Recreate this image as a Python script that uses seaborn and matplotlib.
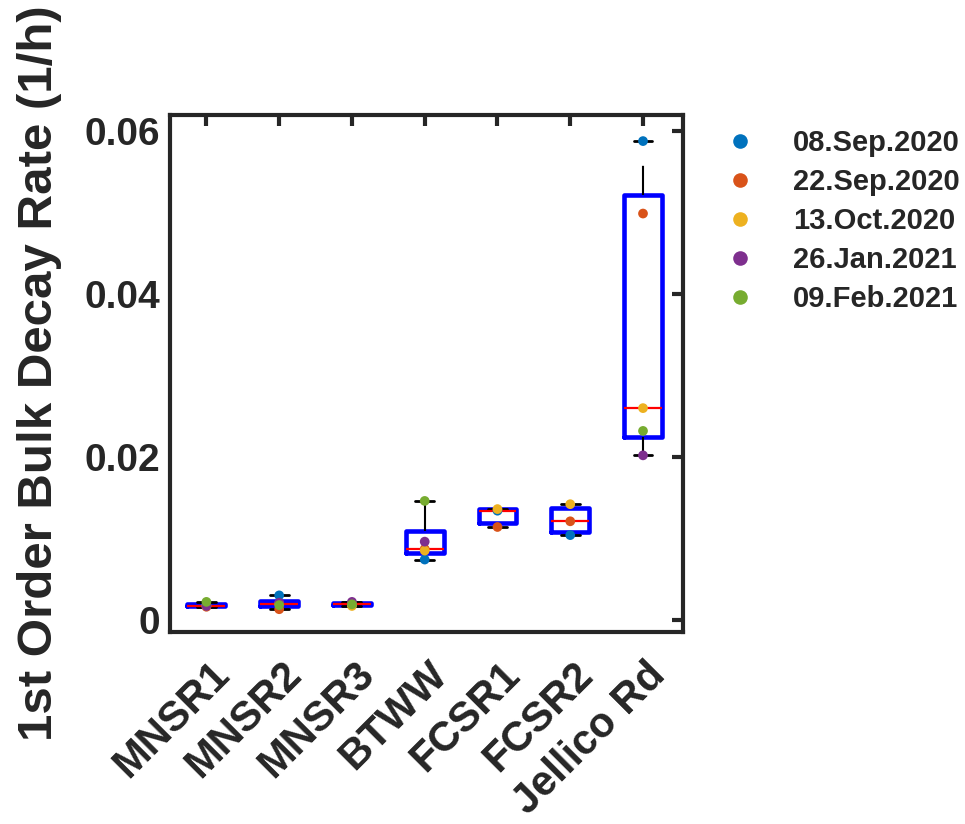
import numpy as np
import pandas as pd
import matplotlib
matplotlib.use("Agg")
import matplotlib.pyplot as plt
import matplotlib.transforms as mtransforms
import seaborn as sns

# ---- data ----
sites = ["MNSR1", "MNSR2", "MNSR3", "BTWW", "FCSR1", "FCSR2", "Jellico Rd"]
dates = ["08.Sep.2020", "22.Sep.2020", "13.Oct.2020", "26.Jan.2021", "09.Feb.2021"]
sep08 = [0.0018, 0.0030, 0.0019, 0.0074, 0.0134, 0.0104, 0.0588]
sep22 = [0.0016, 0.0013, 0.0020, 0.0087, 0.0114, 0.0121, 0.0499]
oct13 = [0.00175, 0.0020, 0.0017, 0.0085, 0.0136, 0.0142, 0.0260]
jan26 = [0.0017, 0.0021, 0.0022, 0.0096, np.nan, np.nan, 0.0202]
feb09 = [0.0022, 0.0018, 0.0019, 0.0146, np.nan, np.nan, 0.0232]
date_colors = ["#0072BD", "#D95319", "#EDB120", "#7E2F8E", "#77AC30"]
yticks = [0, 0.02, 0.04, 0.06]
ytick_labels = ["0", "0.02", "0.04", "0.06"]
ylabel = "1st Order Bulk Decay Rate (1/h)"

series = [sep08, sep22, oct13, jan26, feb09]
rows = []
for d, vals in zip(dates, series):
    for s, v in zip(sites, vals):
        rows.append({"site": s, "date": d, "rate": v})
df = pd.DataFrame(rows).dropna()

# box statistics from the data (MATLAB-style percentiles)
box_stats = []
for s in sites:
    v = df.loc[df["site"] == s, "rate"].to_numpy()
    q1, med, q3 = np.percentile(v, [25, 50, 75], method="hazen")
    box_stats.append(dict(med=med, q1=q1, q3=q3, whislo=v.min(), whishi=v.max(),
                          fliers=[], label=s))

# ---- style ----
sns.set_style("white")
plt.rcParams["font.family"] = ["Liberation Sans", "DejaVu Sans"]
plt.rcParams["font.weight"] = "bold"
plt.rcParams["axes.labelweight"] = "bold"
plt.rcParams["axes.linewidth"] = 3
plt.rcParams["axes.edgecolor"] = "#262626"

fig = plt.figure(figsize=(9.65, 8.24), dpi=100)
ax = fig.add_axes([0.1762, 0.233, 0.5316, 0.6274])

ax.bxp(
    box_stats, positions=range(len(sites)), widths=0.52, capwidths=0.26,
    showfliers=False, patch_artist=False, manage_ticks=False,
    boxprops=dict(color="#0000FF", linewidth=3.3, solid_joinstyle="round"),
    medianprops=dict(color="#FF0000", linewidth=1.6),
    whiskerprops=dict(color="black", linewidth=1.5, linestyle=(0, (14, 11))),
    capprops=dict(color="black", linewidth=2),
)

sns.stripplot(
    data=df, x="site", y="rate", order=sites, hue="date", hue_order=dates,
    palette=date_colors, jitter=False, size=7, linewidth=0, ax=ax, zorder=4,
)

ax.set_xlim(-0.5, 6.55)
ax.set_ylim(-0.0015, 0.062)
ax.set_yticks(yticks)
ax.set_yticklabels(ytick_labels)
ax.set_xticks(range(len(sites)))
ax.set_xticklabels(sites, rotation=45, ha="right", va="center", rotation_mode="anchor")
ax.tick_params(axis="both", direction="in", length=8, width=3, top=True, right=True,
               color="#262626", labelcolor="#262626", pad=7)
ax.tick_params(axis="y", labelsize=28)
ax.tick_params(axis="x", labelsize=30)
offset = mtransforms.ScaledTranslation(12 / 72, -19.5 / 72, fig.dpi_scale_trans)
for lab in ax.get_xticklabels():
    lab.set_fontweight("bold")
    lab.set_transform(lab.get_transform() + offset)
for lab in ax.get_yticklabels():
    lab.set_fontweight("bold")
for sp in ax.spines.values():
    sp.set_visible(True)
    sp.set_linewidth(3)
    sp.set_color("#262626")

ax.set_xlabel("")
ax.set_ylabel(ylabel, fontsize=35.5, fontweight="bold", color="#262626")
ax.yaxis.set_label_coords(-0.21, 0.5)

handles, labels = ax.get_legend_handles_labels()
ax.legend(handles, labels, loc="upper left", bbox_to_anchor=(0.721, 0.8756),
          bbox_transform=fig.transFigure, frameon=False, markerscale=1.5,
          prop=dict(size=21, weight="bold"), handletextpad=1.24, labelspacing=0.38,
          handlelength=1.2)

fig.savefig("out.png", dpi=100)
